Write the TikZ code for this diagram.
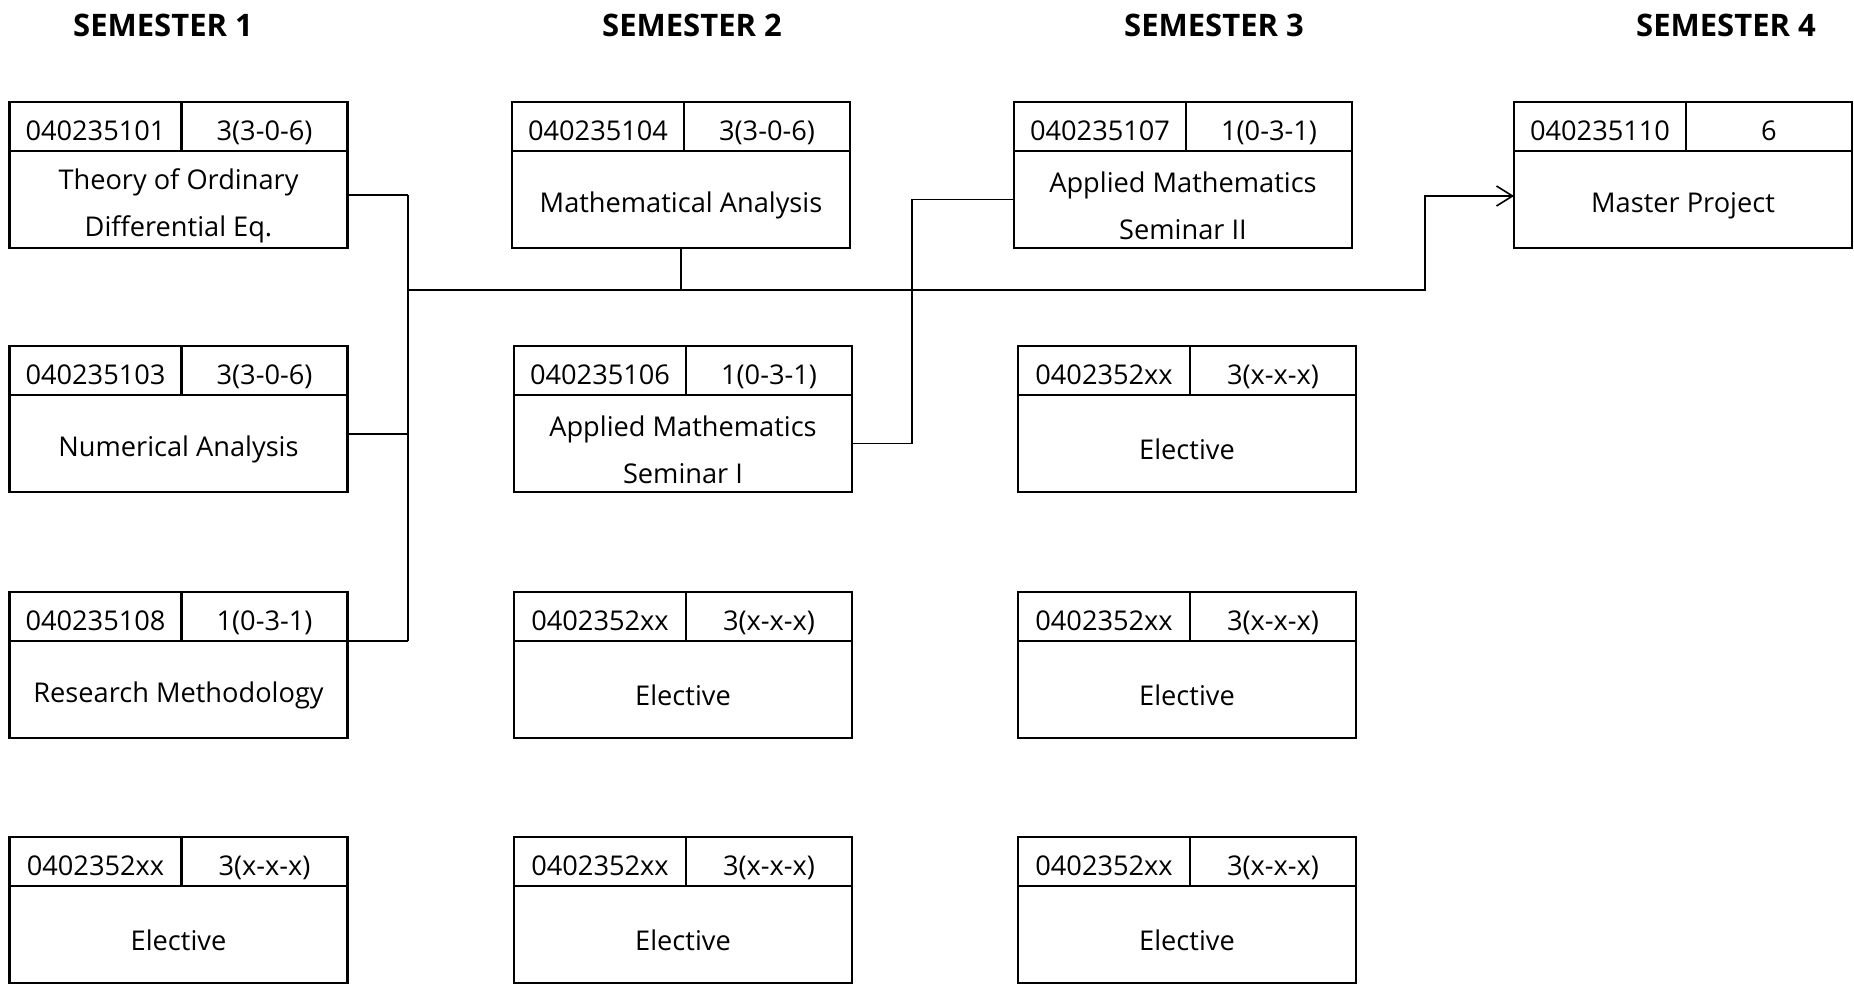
\documentclass[tikz,border=0pt]{standalone}
\usepackage{fontspec}
\setmainfont{Open Sans}
\usetikzlibrary{arrows.meta}

% one course: name, x, y (top left), code, credits, title
\newcommand{\course}[6]{%
  \node[codecell, anchor=north west] (#1-code) at (#2,#3) {#4};
  \node[codecell, minimum width=83pt, anchor=north west] (#1-credit) at (#1-code.north east) {#5};
  \node[titlecell, anchor=north west] (#1) at (#1-code.south west) {};
  \node[titletext] (#1-title) at ([yshift=-3pt]#1.center) {#6};
}

\begin{document}
\begin{tikzpicture}[x=0.5pt, y=-0.5pt,
  codecell/.style={draw, line width=1.2pt, outer sep=0pt, inner sep=0pt, minimum width=86pt, minimum height=24.5pt, text height=14pt, text depth=0pt, font=\fontsize{13.6}{15}\selectfont},
  titlecell/.style={draw, line width=1.2pt, outer sep=0pt, minimum width=169pt, minimum height=48.5pt},
  titletext/.style={inner sep=0pt, align=center, font=\fontsize{13.6}{23.5}\selectfont},
  semester/.style={font=\fontsize{15.5}{18}\selectfont\bfseries},
  link/.style={line width=0.8pt}
]
\useasboundingbox (0,0) rectangle (1854,984);

% Semester headings
\node[semester] (sem1) at (163,25) {SEMESTER 1};
\node[semester] (sem2) at (692,25) {SEMESTER 2};
\node[semester] (sem3) at (1214,25) {SEMESTER 3};
\node[semester] (sem4) at (1726,25) {SEMESTER 4};

% Semester 1
\course{s1a}{9.5}{102}{040235101}{3(3-0-6)}{Theory of Ordinary\\Differential Eq.}
\course{s1b}{9.5}{346}{040235103}{3(3-0-6)}{Numerical Analysis}
\course{s1c}{9.5}{592}{040235108}{1(0-3-1)}{Research Methodology}
\course{s1d}{9.5}{837}{0402352xx}{3(x-x-x)}{Elective}

% Semester 2
\course{s2a}{512}{102}{040235104}{3(3-0-6)}{Mathematical Analysis}
\course{s2b}{514}{346}{040235106}{1(0-3-1)}{Applied Mathematics\\Seminar I}
\course{s2c}{514}{592}{0402352xx}{3(x-x-x)}{Elective}
\course{s2d}{514}{837}{0402352xx}{3(x-x-x)}{Elective}

% Semester 3
\course{s3a}{1014}{102}{040235107}{1(0-3-1)}{Applied Mathematics\\Seminar II}
\course{s3b}{1018}{346}{0402352xx}{3(x-x-x)}{Elective}
\course{s3c}{1018}{592}{0402352xx}{3(x-x-x)}{Elective}
\course{s3d}{1018}{837}{0402352xx}{3(x-x-x)}{Elective}

% Semester 4
\course{s4a}{1514}{102}{040235110}{6}{Master Project}

% Connectors
\coordinate (bus) at (408,290);
\coordinate (turn) at (1425,290);
\coordinate (jog) at (912,290);
\coordinate (s1a-out) at ([yshift=2.25pt]s1a.east);
\coordinate (s1b-out) at ([yshift=4.75pt]s1b.east);
\coordinate (s4a-in) at ([yshift=1.75pt]s4a.west);
\draw[link] (s1a-out) -- (s1a-out -| bus);
\draw[link] (s1b-out) -- (s1b-out -| bus);
\draw[link] (s1c-credit.south east) -- (s1c-credit.south east -| bus);
\draw[link] (s1a-out -| bus) -- (s1c-credit.south east -| bus);
\draw[link] (s2a.south) -- (s2a.south |- bus);
\draw[link, -{Straight Barb[length=8pt, width=10pt]}] (bus) -- (turn) |- (s4a-in);
\draw[link] (s2b.east) -| (jog |- s3a.west) -- (s3a.west);
\end{tikzpicture}
\end{document}
